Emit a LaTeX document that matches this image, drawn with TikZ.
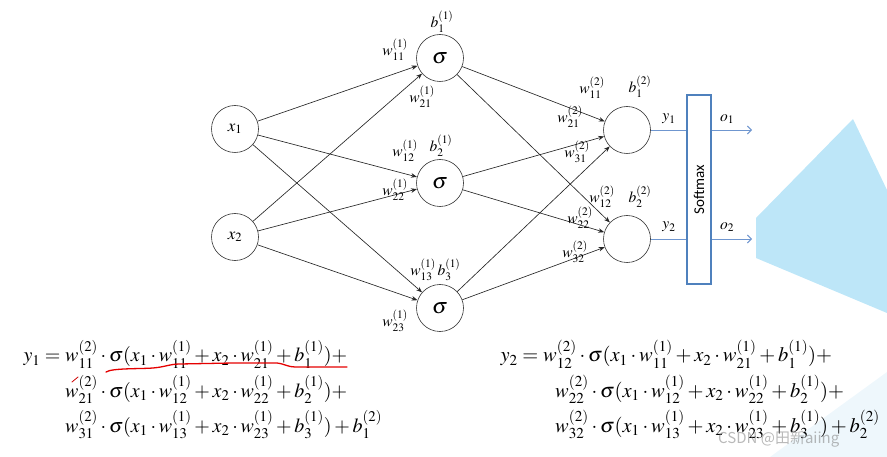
\documentclass[tikz,border=0pt]{standalone}
\usepackage{mathptmx}
\usepackage{fontspec}
\newfontfamily\cjkfont{Noto Sans CJK SC}
\newfontfamily\softfont{Carlito}
\usetikzlibrary{arrows.meta}
\definecolor{boxblue}{HTML}{4F81BD}
\definecolor{lineblue}{HTML}{6F96CF}
\definecolor{shapeblue}{HTML}{BDE6F8}
\definecolor{paleblue}{HTML}{EEF7FC}
\tikzset{
  neuron/.style={circle,draw=black!80,line width=0.6pt,minimum size=47pt,inner sep=0pt,font=\fontsize{17}{20}\selectfont},
  signode/.style={neuron,font=\fontsize{22}{24}\selectfont},
  wlab/.style={inner sep=0pt,font=\fontsize{15.5}{17}\selectfont},
  conn/.style={draw=black!85,line width=0.65pt,-{Stealth[length=6pt,width=4.5pt]}},
  blueline/.style={draw=lineblue,line width=0.9pt},
  bluearrow/.style={draw=lineblue,line width=0.9pt,-{Straight Barb[length=4pt,width=8pt]}},
  eqline/.style={anchor=base west,inner sep=0pt,font=\fontsize{20}{24}\selectfont},
  eqlineR/.style={anchor=base west,inner sep=0pt,font=\fontsize{20.5}{24}\selectfont},
}
\begin{document}
\begin{tikzpicture}[x=1pt,y=-1pt]
\useasboundingbox (0,0) rectangle (887,457);
% background decorative shapes
\fill[shapeblue] (853,119) -- (756,218) -- (756,258) -- (887,313) -- (887,190) -- cycle;
\fill[paleblue] (770,457) -- (887,372) -- (887,457) -- cycle;
% neurons
\node[neuron] (x1) at (235,129) {$x_1$};
\node[neuron] (x2) at (235,237) {$x_2$};
\node[signode] (h1) at (440,58) {$\sigma$};
\node[signode] (h2) at (440,183) {$\sigma$};
\node[signode] (h3) at (440,308) {$\sigma$};
\node[neuron] (o1) at (627,130) {};
\node[neuron] (o2) at (627,239) {};
% connectors layer 1
\draw[conn] (x1) -- (h1);
\draw[conn] (x1) -- (h2);
\draw[conn] (x1) -- (h3);
\draw[conn] (x2) -- (h1);
\draw[conn] (x2) -- (h2);
\draw[conn] (x2) -- (h3);
% connectors layer 2
\draw[conn] (h1) -- (o1);
\draw[conn] (h1) -- (o2);
\draw[conn] (h2) -- (o1);
\draw[conn] (h2) -- (o2);
\draw[conn] (h3) -- (o1);
\draw[conn] (h3) -- (o2);
% softmax box
\node[draw=boxblue,line width=1.5pt,minimum width=24pt,minimum height=189pt,inner sep=0pt] (sm) at (699,189.5) {};
\node[rotate=90,inner sep=0pt,font=\softfont\fontsize{15}{18}\selectfont] (smtext) at (sm.center) {Softmax};
\coordinate (e1) at (752,130);
\coordinate (e2) at (752,239);
\draw[blueline] (o1.east) -- (o1.east -| sm.west);
\draw[blueline] (o2.east) -- (o2.east -| sm.west);
\draw[bluearrow] (o1.east -| sm.east) -- (e1);
\draw[bluearrow] (o2.east -| sm.east) -- (e2);
% labels layer 1
\node[wlab] (lb11) at (442,22) {$b_1^{(1)}$};
\node[wlab] (lw111) at (395,50) {$w_{11}^{(1)}$};
\node[wlab] (lw211) at (422,97) {$w_{21}^{(1)}$};
\node[wlab] (lw121) at (405,151) {$w_{12}^{(1)}$};
\node[wlab] (lb21) at (441,146) {$b_2^{(1)}$};
\node[wlab] (lw221) at (395,190) {$w_{22}^{(1)}$};
\node[wlab] (lw131) at (423,270) {$w_{13}^{(1)}$};
\node[wlab] (lb31) at (449,270) {$b_3^{(1)}$};
\node[wlab] (lw231) at (395,321) {$w_{23}^{(1)}$};
% labels layer 2
\node[wlab] (lw112) at (592,88) {$w_{11}^{(2)}$};
\node[wlab] (lb12) at (640,87) {$b_1^{(2)}$};
\node[wlab] (lw212) at (570,117) {$w_{21}^{(2)}$};
\node[wlab] (lw312) at (577,152) {$w_{31}^{(2)}$};
\node[wlab] (lw122) at (602,197) {$w_{12}^{(2)}$};
\node[wlab] (lb22) at (640,197) {$b_2^{(2)}$};
\node[wlab] (lw222) at (580,218) {$w_{22}^{(2)}$};
\node[wlab] (lw322) at (575,252) {$w_{32}^{(2)}$};
\node[wlab] (ly1) at (669,119) {$y_1$};
\node[wlab] (lo1) at (727,119) {$o_1$};
\node[wlab] (ly2) at (669,227) {$y_2$};
\node[wlab] (lo2) at (727,227) {$o_2$};
% equations left
\node[eqline,anchor=base east] (eqy1) at (65,362) {$y_1 = {}$};
\node[eqline] (eqa1) at (65,362) {$w_{11}^{(2)}\cdot\sigma(x_1\cdot w_{11}^{(1)}+x_2\cdot w_{21}^{(1)}+b_1^{(1)})+$};
\node[eqline] (eqa2) at (65,397) {$w_{21}^{(2)}\cdot\sigma(x_1\cdot w_{12}^{(1)}+x_2\cdot w_{22}^{(1)}+b_2^{(1)})+$};
\node[eqline] (eqa3) at (65,432) {$w_{31}^{(2)}\cdot\sigma(x_1\cdot w_{13}^{(1)}+x_2\cdot w_{23}^{(1)}+b_3^{(1)})+b_1^{(2)}$};
% equations right
\node[eqlineR,anchor=base east] (eqy2) at (543,362) {$y_2 = {}$};
\node[eqlineR] (eqb1) at (543,362) {$w_{12}^{(2)}\cdot\sigma(x_1\cdot w_{11}^{(1)}+x_2\cdot w_{21}^{(1)}+b_1^{(1)})+$};
\node[eqlineR] (eqb2) at (555,397) {$w_{22}^{(2)}\cdot\sigma(x_1\cdot w_{12}^{(1)}+x_2\cdot w_{22}^{(1)}+b_2^{(1)})+$};
\node[eqlineR] (eqb3) at (555,432) {$w_{32}^{(2)}\cdot\sigma(x_1\cdot w_{13}^{(1)}+x_2\cdot w_{23}^{(1)}+b_3^{(1)})+b_2^{(2)}$};
% red hand-drawn underline
\draw[red!90!black,line width=1.3pt,line cap=round] (106,372) .. controls (112,368) and (140,369) .. (153,368) .. controls (165,367) and (170,364) .. (180,364) -- (233,363) -- (277,363) .. controls (285,364) and (288,367) .. (295,367) -- (347,367);
\draw[red!80!black,line width=0.8pt,line cap=round] (72,382) -- (78,377);
% watermark
\node[anchor=base west,inner sep=0pt,text=gray,opacity=0.55,font=\cjkfont\fontsize{15}{18}\selectfont] (wm) at (718,443) {CSDN @田新aiing};
\end{tikzpicture}
\end{document}
